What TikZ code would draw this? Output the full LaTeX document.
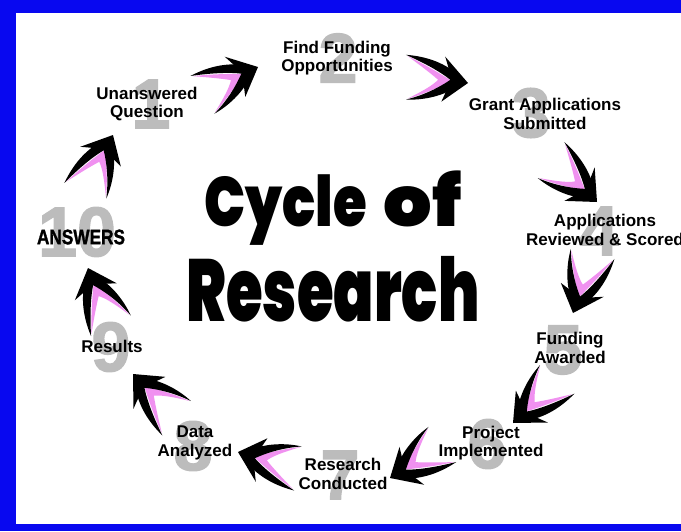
\documentclass[tikz,border=0pt]{standalone}
\usepackage{fontspec}
\usepackage{graphicx}
\setmainfont{Liberation Sans}
\newfontfamily\titlefont{Poppins Black}
\newfontfamily\ansfont[FakeBold=1.5]{Liberation Sans Bold}
\newfontfamily\numfont[FakeBold=2]{Liberation Sans Bold}
\definecolor{frameblue}{RGB}{8,8,240}
\definecolor{numgray}{RGB}{188,188,188}
\definecolor{swpink}{RGB}{240,145,240}
\tikzset{
  x=1pt, y=1pt,
  lbl/.style={font=\fontsize{17}{18.5}\selectfont\bfseries, align=center, inner sep=0pt, text=black},
  num/.style={font=\numfont\fontsize{70}{70}\selectfont, text=numgray, inner sep=0pt},
  ttl/.style={inner sep=0pt, anchor=base},
  swoosh/.pic={
    \fill[swpink] (-64,16) .. controls (-46,11) and (-28,4) .. (-16,-1)
        .. controls (-28,-9) and (-42,-19) .. (-57,-26)
        .. controls (-42,-15) and (-34,-8) .. (-30,-2)
        .. controls (-40,4) and (-52,10) .. cycle;
    \fill[black] (-66,17) .. controls (-46,19) and (-28,16) .. (-12,7) -- (-16,-1)
        .. controls (-28,6) and (-46,12) .. cycle;
    \fill[black] (-58,-27) .. controls (-42,-25) and (-24,-18) .. (-12,-7) -- (-17,1)
        .. controls (-28,-10) and (-42,-20) .. cycle;
    \fill[black] (0,0) -- (-27,22) .. controls (-22,12) .. (-17,0)
        .. controls (-20,-12) .. (-23,-23) -- cycle;
  }
}
\begin{document}
\begin{tikzpicture}
\useasboundingbox (0,0) rectangle (681,-531);
\fill[frameblue] (0,0) rectangle (681,-531);
\fill[white] (16,-13) rectangle (681,-524);

% big gray numbers
\node[num] (n1) at (151,-104) {1};
\node[num] (n2) at (338,-58) {2};
\node[num] (n3) at (531,-113) {3};
\node[num] (n4) at (599,-231) {4};
\node[num] (n5) at (563,-350) {5};
\node[num] (n6) at (487,-444) {6};
\node[num] (n7) at (340,-475) {7};
\node[num] (n8) at (193,-446) {8};
\node[num] (n9) at (111,-347) {9};
\node[num] (n10) at (77,-232) {10};

% title
\node[ttl, font=\titlefont\fontsize{70}{70}\selectfont] (c1) at (333,-226)
  {\scalebox{0.78}[1]{Cycle}\hspace{17pt}\scalebox{1.09}[1]{of}};
\node[ttl, xscale=0.675, font=\titlefont\fontsize{88}{88}\selectfont] (c2) at (333,-321) {Research};

% labels
\node[lbl] (t1) at (147,-104) {Unanswered\\Question};
\node[lbl] (t2) at (337,-58) {Find Funding\\Opportunities};
\node[lbl] (t3) at (545,-114) {Grant Applications\\Submitted};
\node[lbl] (t4) at (605,-230) {Applications\\Reviewed \& Scored};
\node[lbl] (t5) at (570,-348) {Funding\\Awarded};
\node[lbl] (t6) at (491,-443) {Project\\Implemented};
\node[lbl] (t7) at (343,-474) {Research\\Conducted};
\node[lbl] (t8) at (195,-443) {Data\\Analyzed};
\node[lbl] (t9) at (112,-346) {Results};
\node[inner sep=0pt, font=\ansfont\fontsize{21}{21}\selectfont, xscale=0.82] (t10) at (81,-237) {ANSWERS};

% arrows
\coordinate (a1) at (258,-67);
\coordinate (a2) at (468,-83);
\coordinate (a3) at (597,-202);
\coordinate (a4) at (573,-313);
\coordinate (a5) at (513,-423);
\coordinate (a6) at (390,-478);
\coordinate (a7) at (238,-452);
\coordinate (a8) at (133,-374);
\coordinate (a9) at (88,-268);
\coordinate (a10) at (113,-135);
\pic[rotate=22] at (a1) {swoosh};
\pic[rotate=-10] at (a2) {swoosh};
\pic[rotate=-47] at (a3) {swoosh};
\pic[rotate=-113] at (a4) {swoosh};
\pic[rotate=-140] at (a5) {swoosh};
\pic[rotate=-152] at (a6) {swoosh};
\pic[rotate=160] at (a7) {swoosh};
\pic[rotate=130] at (a8) {swoosh};
\pic[rotate=107] at (a9) {swoosh};
\pic[rotate=59] at (a10) {swoosh};
\end{tikzpicture}
\end{document}
